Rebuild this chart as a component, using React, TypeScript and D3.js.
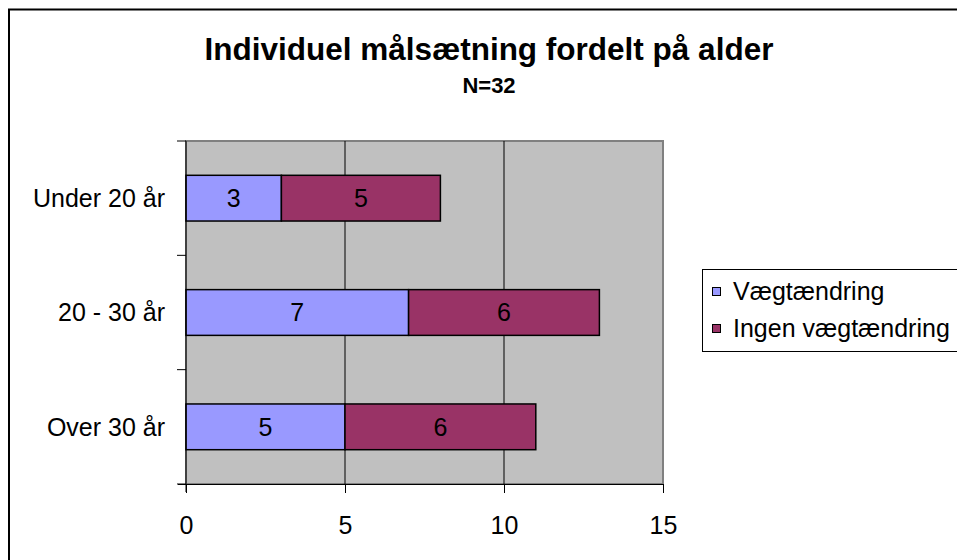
import React, { useEffect, useRef } from "react";
import * as d3 from "d3";

const categories = ["Under 20 år", "20 - 30 år", "Over 30 år"];
const vaegt = [3, 7, 5];
const ingen = [5, 6, 6];
const seriesNames = ["Vægtændring", "Ingen vægtændring"];
const seriesColors = ["#9999FF", "#993366"];
const xTicks = [0, 5, 10, 15];

export default function App() {
  const ref = useRef<SVGSVGElement>(null);

  useEffect(() => {
    const svg = d3.select(ref.current);
    svg.selectAll("*").remove();
    const font = "'Liberation Sans', Arial, sans-serif";

    // outer chart frame (runs off the right/bottom edge like the original)
    svg.append("rect")
      .attr("x", 9).attr("y", 9.5)
      .attr("width", 960).attr("height", 560)
      .attr("fill", "white").attr("stroke", "black").attr("stroke-width", 2);

    const left = 186, right = 663, top = 141, bottom = 484;
    const x = d3.scaleLinear().domain([0, 15]).range([left, right]);
    const y = d3.scaleBand().domain(categories).range([top, bottom]).paddingInner(0.6).paddingOuter(0.3);
    const yBands = d3.scaleBand().domain(categories).range([top, bottom]);

    svg.append("rect")
      .attr("x", left).attr("y", top)
      .attr("width", right - left).attr("height", bottom - top)
      .attr("fill", "#C0C0C0").attr("stroke", "#808080").attr("stroke-width", 2);

    // vertical grid lines
    svg.append("g")
      .selectAll("line")
      .data(xTicks.slice(1, -1))
      .join("line")
      .attr("x1", (d) => x(d)).attr("x2", (d) => x(d))
      .attr("y1", top).attr("y2", bottom)
      .attr("stroke", "black").attr("stroke-width", 1);

    const stacked = categories.map((c, i) => [
      { cat: c, x0: 0, x1: vaegt[i], v: vaegt[i], s: 0 },
      { cat: c, x0: vaegt[i], x1: vaegt[i] + ingen[i], v: ingen[i], s: 1 },
    ]).flat();

    svg.append("g")
      .selectAll("rect")
      .data(stacked)
      .join("rect")
      .attr("x", (d) => x(d.x0))
      .attr("y", (d) => y(d.cat)!)
      .attr("width", (d) => x(d.x1) - x(d.x0))
      .attr("height", y.bandwidth())
      .attr("fill", (d) => seriesColors[d.s])
      .attr("stroke", "black").attr("stroke-width", 1.5);

    svg.append("g")
      .selectAll("text")
      .data(stacked)
      .join("text")
      .attr("x", (d) => (x(d.x0) + x(d.x1)) / 2)
      .attr("y", (d) => y(d.cat)! + y.bandwidth() / 2)
      .attr("dy", "0.35em")
      .attr("text-anchor", "middle")
      .style("font-family", font).style("font-size", "25px")
      .text((d) => d.v);

    // x axis
    const xAxis = svg.append("g")
      .attr("transform", `translate(0,${bottom})`)
      .call(d3.axisBottom(x).tickValues(xTicks).tickSize(9).tickPadding(23).tickFormat(d3.format("d")));
    xAxis.select(".domain").attr("d", `M${left - 8},0.5H${right}`).attr("stroke", "black");
    xAxis.selectAll(".tick line").attr("stroke", "black");
    xAxis.selectAll("text").style("font-family", font).style("font-size", "25px").attr("fill", "black");

    // y axis: ticks sit between categories
    const yEdges = [top, ...categories.map((c) => yBands(c)! + yBands.bandwidth())];
    const yAxis = svg.append("g");
    yAxis.append("line")
      .attr("x1", left).attr("x2", left).attr("y1", top).attr("y2", bottom + 8)
      .attr("stroke", "black");
    yAxis.selectAll("line.tk")
      .data(yEdges)
      .join("line")
      .attr("class", "tk")
      .attr("x1", left - 9).attr("x2", left)
      .attr("y1", (d) => d).attr("y2", (d) => d)
      .attr("stroke", "black");
    yAxis.selectAll("text")
      .data(categories)
      .join("text")
      .attr("x", 165)
      .attr("y", (d) => yBands(d)! + yBands.bandwidth() / 2)
      .attr("dy", "0.35em")
      .attr("text-anchor", "end")
      .style("font-family", font).style("font-size", "25px")
      .text((d) => d);

    // titles
    svg.append("text")
      .attr("x", 489).attr("y", 60)
      .attr("text-anchor", "middle")
      .style("font-family", font).style("font-size", "31.5px").style("font-weight", "bold")
      .text("Individuel målsætning fordelt på alder");
    svg.append("text")
      .attr("x", 489).attr("y", 93)
      .attr("text-anchor", "middle")
      .style("font-family", font).style("font-size", "22px").style("font-weight", "bold")
      .text("N=32");

    // legend
    const lg = svg.append("g");
    lg.append("rect")
      .attr("x", 702.5).attr("y", 269.5).attr("width", 270).attr("height", 82)
      .attr("fill", "white").attr("stroke", "black").attr("stroke-width", 1);
    const items = lg.selectAll("g.item")
      .data(seriesNames)
      .join("g")
      .attr("class", "item")
      .attr("transform", (d, i) => `translate(712,${291 + i * 37})`);
    items.append("rect")
      .attr("x", 0.5).attr("y", -3.5).attr("width", 8).attr("height", 8)
      .attr("fill", (d, i) => seriesColors[i]).attr("stroke", "black").attr("stroke-width", 1);
    items.append("text")
      .attr("x", 21).attr("y", 0).attr("dy", "0.35em")
      .style("font-family", font).style("font-size", "25px")
      .text((d) => d);
  }, []);

  return (
    <svg ref={ref} width={957} height={560} style={{ position: "absolute", left: 0, top: 0 }} />
  );
}
